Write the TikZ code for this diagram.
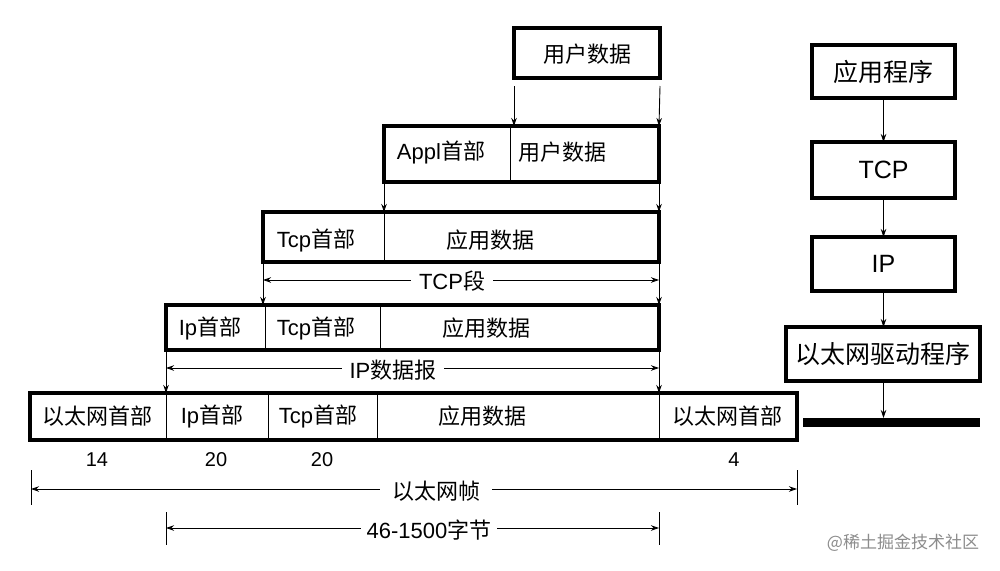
\documentclass[tikz,border=0pt]{standalone}
\usepackage{fontspec}
\setmainfont{Noto Sans CJK SC}
\newfontfamily\lat{Liberation Sans}
\usetikzlibrary{arrows.meta}
\begin{document}
\begin{tikzpicture}[x=1pt,y=-1pt,
  frame/.style={draw, line width=3.4pt, inner sep=0pt, outer sep=0pt, anchor=north west},
  div/.style={line width=0.9pt},
  arr/.style={line width=0.9pt, -{Stealth[length=8pt,width=5.5pt]}},
  dim/.style={line width=0.9pt, {Stealth[length=8pt,width=5.5pt]}-{Stealth[length=8pt,width=5.5pt]}},
  lbl/.style={font=\fontsize{22}{25}\selectfont, inner sep=0pt},
  big/.style={font=\fontsize{25}{28}\selectfont, inner sep=0pt},
  num/.style={font=\lat\fontsize{20}{23}\selectfont, inner sep=0pt},
  dlbl/.style={font=\fontsize{22}{25}\selectfont, fill=white, inner xsep=8pt, inner ysep=2pt}]
\useasboundingbox (0,0) rectangle (1000,570);
\fill[white] (0,0) rectangle (1000,570);

% boxes
\node[frame, minimum width=146pt, minimum height=50pt] (ud) at (514,28) {};
\node[frame, minimum width=275pt, minimum height=56pt] (appl) at (384,126) {};
\node[frame, minimum width=396pt, minimum height=50pt] (tcp) at (263,212) {};
\node[frame, minimum width=493pt, minimum height=45pt] (ip) at (166,305) {};
\node[frame, minimum width=767pt, minimum height=47pt] (eth) at (30,393) {};

% dividers
\draw[div] (510,126) -- (510,182);
\draw[div] (384,212) -- (384,262);
\draw[div] (265,305) -- (265,350);
\draw[div] (380,305) -- (380,350);
\draw[div] (166,393) -- (166,440);
\draw[div] (268,393) -- (268,440);
\draw[div] (377,393) -- (377,440);
\draw[div] (659,393) -- (659,440);

% texts
\node[lbl] (t0) at (587,54) {用户数据};
\node[lbl] (t1) at (441,152) {{\lat Appl}首部};
\node[lbl] (t2) at (562,152) {用户数据};
\node[lbl] (t3) at (316,240) {{\lat Tcp}首部};
\node[lbl] (t4) at (490,240) {应用数据};
\node[lbl] (t5) at (210,328) {{\lat Ip}首部};
\node[lbl] (t6) at (316,328) {{\lat Tcp}首部};
\node[lbl] (t7) at (486,328) {应用数据};
\node[lbl] (t8) at (97,416) {以太网首部};
\node[lbl] (t9) at (212,416) {{\lat Ip}首部};
\node[lbl] (t10) at (318,416) {{\lat Tcp}首部};
\node[lbl] (t11) at (482,416) {应用数据};
\node[lbl] (t12) at (727,416) {以太网首部};

\node[num] (n1) at (97,460) {14};
\node[num] (n2) at (216,460) {20};
\node[num] (n3) at (322,460) {20};
\node[num] (n4) at (734,460) {4};

% encapsulation arrows
\draw[arr] ([yshift=-8pt]ud.south west) -- (appl.north west -| ud.south west);
\draw[arr] ([yshift=-8pt]ud.south east) -- (appl.north east);
\draw[arr] (appl.south west) -- (tcp.north west -| appl.south west);
\draw[arr] (appl.south east) -- (tcp.north east);
\draw[arr] (tcp.south west) -- (ip.north west -| tcp.south west);
\draw[arr] (tcp.south east) -- (ip.north east);
\draw[arr] (ip.south west) -- (eth.north west -| ip.south west);
\draw[arr] (ip.south east) -- (eth.north west -| ip.south east);

% dimension lines
\coordinate (s1) at (263,280); \coordinate (e1) at (659,280);
\draw[dim] (s1) -- (e1);
\node[dlbl] (d1) at (452,281) {{\lat TCP}段};
\coordinate (s2) at (166,368); \coordinate (e2) at (659,368);
\draw[dim] (s2) -- (e2);
\node[dlbl] (d2) at (393,370) {{\lat IP}数据报};
\coordinate (s3) at (31,489); \coordinate (e3) at (797,489);
\draw[div] (31,470) -- (31,505);
\draw[div] (797,470) -- (797,505);
\draw[dim] (s3) -- (e3);
\node[dlbl, inner xsep=12pt] (d3) at (436,491) {以太网帧};
\coordinate (s4) at (166,528); \coordinate (e4) at (659,528);
\draw[div] (166,512) -- (166,545);
\draw[div] (659,512) -- (659,545);
\draw[dim] (s4) -- (e4);
\node[dlbl, inner xsep=6pt] (d4) at (429,530) {{\lat 46-1500}字节};

% protocol stack
\node[frame, minimum width=143pt, minimum height=53pt] (app) at (812,45) {};
\node[big] at (app.center) {应用程序};
\node[frame, minimum width=143pt, minimum height=56pt] (tcpR) at (812,142) {};
\node[big, font=\lat\fontsize{25}{28}\selectfont] at (tcpR.center) {TCP};
\node[frame, minimum width=143pt, minimum height=54pt] (ipR) at (812,237) {};
\node[big, font=\lat\fontsize{25}{28}\selectfont] at (ipR.center) {IP};
\node[frame, minimum width=194pt, minimum height=54pt] (drv) at (786,327) {};
\node[big] at (drv.center) {以太网驱动程序};
\node[fill=black, inner sep=0pt, outer sep=0pt, anchor=north west, minimum width=177pt, minimum height=9pt] (bar) at (803,418) {};
\draw[arr] (app.south) -- (tcpR.north);
\draw[arr] (tcpR.south) -- (ipR.north);
\draw[arr] (ipR.south) -- (drv.north -| ipR.south);
\draw[arr] (drv.south -| ipR.south) -- (bar.north -| ipR.south);

% watermark
\node[font=\fontsize{17}{20}\selectfont, text=black!45, inner sep=0pt] (wm) at (903,543) {@稀土掘金技术社区};
\end{tikzpicture}
\end{document}
